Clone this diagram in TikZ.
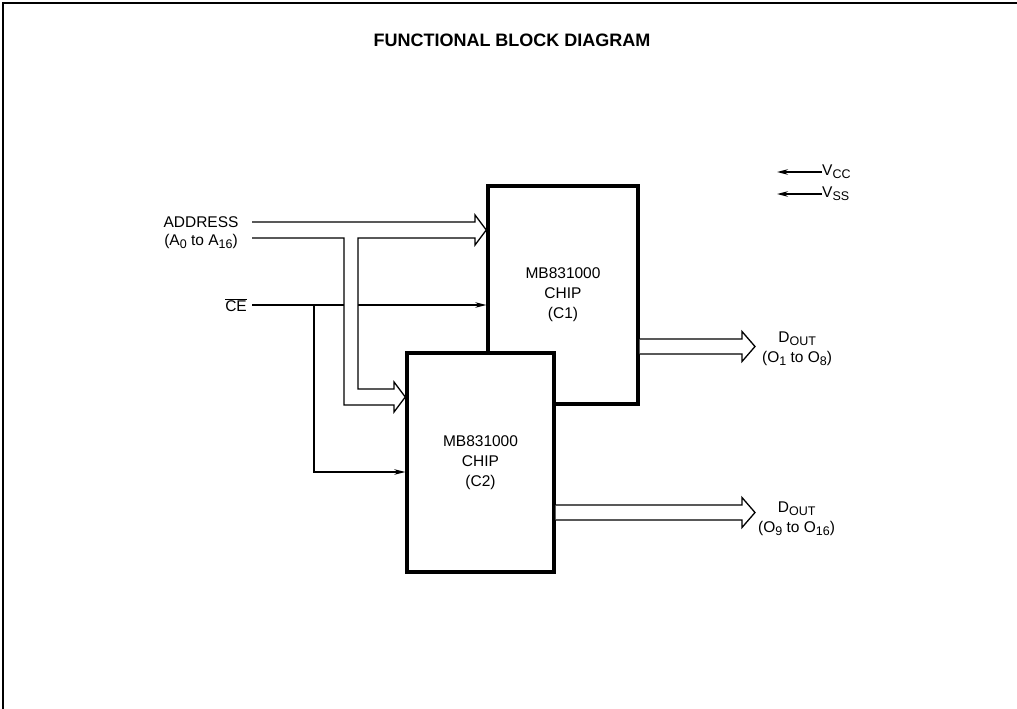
\documentclass[tikz,border=0pt]{standalone}
\usepackage{amsmath}
\usepackage{fontspec}
\setmainfont{Liberation Sans}
\usetikzlibrary{arrows.meta, positioning, calc}
\newcommand{\lowsub}[1]{\raisebox{-0.35ex}{\fontsize{12.5}{12.5}\selectfont#1}}

\begin{document}
\begin{tikzpicture}[x=1pt, y=-1pt,
    chip/.style={draw, line width=3.4pt, fill=white, minimum width=150pt,
                 minimum height=218pt, align=center, inner sep=0pt,
                 font=\fontsize{15.5}{20}\selectfont},
    sig/.style={line width=1.3pt, -{Stealth[length=11pt, width=5.5pt]}},
    bus/.style={line width=1.3pt, fill=white, line join=miter},
    lbl/.style={font=\fontsize{15.5}{18}\selectfont, align=center, inner sep=0pt}]
  \useasboundingbox (0,0) rectangle (1017,709);
  \draw[line width=2pt] (3,709) -- (3,3) -- (1017,3);
  \node[font=\fontsize{18}{20}\selectfont\bfseries] (title) at (512,40) {FUNCTIONAL BLOCK DIAGRAM};

  % the two chips
  \node[chip] (c1) at (563,295) {MB831000\\CHIP\\(C1)};
  \node[chip, minimum width=147pt, minimum height=219pt] (c2) at (480.5,462.5) {MB831000\\CHIP\\(C2)};

  % chip enable
  \node[lbl, anchor=east] (ce) at (247,305) {$\overline{\text{CE}}$};
  \coordinate (cebr) at (314,305);
  \draw[sig] ([xshift=5pt]ce.east) -- (c1.west |- ce.east);
  \draw[sig] (cebr) |- ([yshift=-9.5pt]c2.west);

  % address bus
  \node[lbl] (addr) at (201,233) {ADDRESS\\(A\lowsub{0} to A\lowsub{16})};
  \coordinate (t1) at (c1.west |- 0,230);
  \coordinate (t2) at (c2.west |- 0,397);
  \filldraw[bus] (252,222) -- (475,222) -- (475,215) -- (t1) -- (475,245) -- (475,238)
    -- (358,238) -- (358,389) -- (394,389) -- (394,382) -- (t2) -- (394,412) -- (394,405)
    -- (344,405) -- (344,238) -- (252,238);

  % data outputs
  \coordinate (o1) at (755,346.5);
  \coordinate (o2) at (755,512.5);
  \filldraw[bus] (c1.east |- 0,339) -- (742,339) -- (742,331.5) -- (o1) -- (742,361.5)
    -- (742,354) -- (c1.east |- 0,354);
  \filldraw[bus] (c2.east |- 0,505) -- (742,505) -- (742,497.5) -- (o2) -- (742,527.5)
    -- (742,520) -- (c2.east |- 0,520);
  \node[lbl, font=\fontsize{15.5}{20}\selectfont, right=7pt of o1, yshift=-2pt] (d1)
    {D\lowsub{OUT}\\(O\lowsub{1} to O\lowsub{8})};
  \node[lbl, font=\fontsize{15.5}{20}\selectfont, right=3pt of o2, yshift=-6pt] (d2)
    {D\lowsub{OUT}\\(O\lowsub{9} to O\lowsub{16})};

  % supply
  \node[lbl, anchor=west] (vcc) at (822,172) {V\lowsub{CC}};
  \node[lbl, anchor=west] (vss) at (822,194) {V\lowsub{SS}};
  \coordinate (vccin) at (777,172);
  \coordinate (vssin) at (777,194);
  \draw[sig] (vcc.west) -- (vccin);
  \draw[sig] (vss.west) -- (vssin);
\end{tikzpicture}
\end{document}
